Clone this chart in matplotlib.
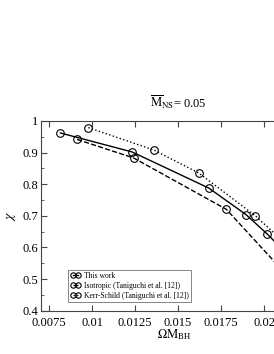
import numpy as np
import matplotlib.pyplot as plt
from matplotlib.ticker import MultipleLocator

plt.rcParams['font.family'] = ['Liberation Serif', 'DejaVu Serif']
plt.rcParams['mathtext.fontset'] = 'stix'

# dados
omega_this = [0.00816, 0.01233, 0.0168, 0.01895, 0.0202, 0.0215]
chi_this = [0.962, 0.902, 0.7875, 0.704, 0.642, 0.57]

omega_iso = [0.00913, 0.01242, 0.01781, 0.0212]
chi_iso = [0.9416, 0.883, 0.7206, 0.52]

omega_ks = [0.00978, 0.0136, 0.0162, 0.0195, 0.0215]
chi_ks = [0.979, 0.908, 0.8356, 0.70, 0.60]

labels = ["This work", "Isotropic (Taniguchi et al. [12])",
          "Kerr-Schild (Taniguchi et al. [12])"]

fig = plt.figure(figsize=(2.74, 3.54), dpi=100)
ax = fig.add_axes([0.1496, 0.1223, 0.9708, 0.536])

estilo = dict(color='black', marker='o', markersize=5.5, markerfacecolor='none',
              markeredgewidth=0.8, clip_on=True)
ax.plot(omega_this, chi_this, linestyle='-', linewidth=1.0, label=labels[0], **estilo)
ax.plot(omega_iso, chi_iso, linestyle='--', linewidth=1.0, label=labels[1], **estilo)
ax.plot(omega_ks, chi_ks, linestyle=':', linewidth=1.0, label=labels[2], **estilo)

ax.set_xlim(0.00703, 0.0225)
ax.set_ylim(0.4, 1.0)
ax.set_xticks([0.0075, 0.01, 0.0125, 0.015, 0.0175, 0.02])
ax.set_xticklabels(['0.0075', '0.01', '0.0125', '0.015', '0.0175', '0.02'])
ax.set_yticks([0.4, 0.5, 0.6, 0.7, 0.8, 0.9, 1.0])
ax.set_yticklabels(['0.4', '0.5', '0.6', '0.7', '0.8', '0.9', '1'])
ax.yaxis.set_minor_locator(MultipleLocator(0.05))

ax.tick_params(which='both', direction='in', top=True, right=True,
               labelsize=9, pad=2, color='#444444')
ax.tick_params(axis='x', pad=4.5)
ax.tick_params(which='major', length=4)
ax.tick_params(which='minor', length=2)
for s in ax.spines.values():
    s.set_color('#444444')
    s.set_linewidth(0.8)

ax.set_xlabel(r'$\Omega\mathrm{M}_{\mathrm{BH}}$', fontsize=9, labelpad=-1)
ax.set_ylabel(r'$\chi$', fontsize=10, labelpad=3)
fig.text(0.65, 0.712, r'$\overline{\mathrm{M}}_{\mathrm{NS}}$= 0.05', fontsize=9,
         ha='center', va='center')

leg = ax.legend(loc='lower left', bbox_to_anchor=(0.103, 0.045), fontsize=5.5,
                frameon=True, fancybox=False, edgecolor='#666666', handlelength=1.3,
                numpoints=2, markerscale=0.7, borderpad=0.3, labelspacing=0.25,
                handletextpad=0.4, borderaxespad=0)
leg.get_frame().set_linewidth(0.7)

fig.savefig('out.png', dpi=100)
